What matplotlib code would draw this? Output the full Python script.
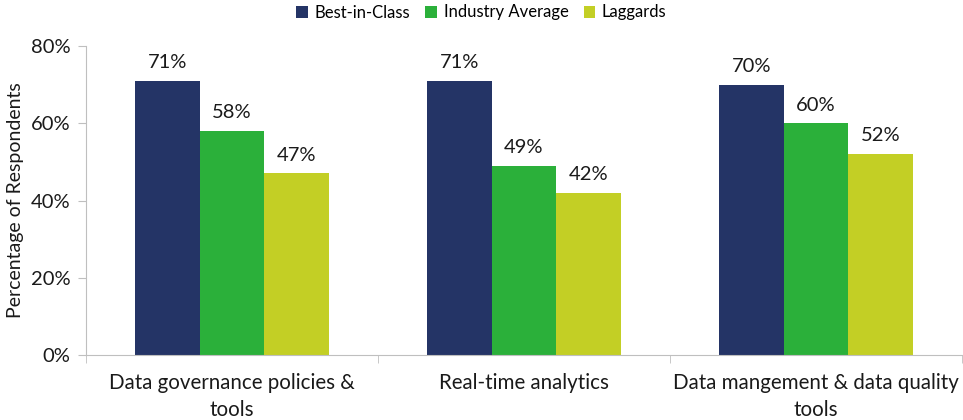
import numpy as np
import matplotlib.pyplot as plt
from matplotlib.ticker import FuncFormatter

# Datos del gráfico
categorias = ["Data governance policies &\ntools", "Real-time analytics",
              "Data mangement & data quality\ntools"]
series = ["Best-in-Class", "Industry Average", "Laggards"]
best = [71, 71, 70]
industria = [58, 49, 60]
rezagados = [47, 42, 52]
colores = ["#243466", "#2bb03a", "#c3cf25"]

plt.rcParams['font.family'] = ['Lato', 'DejaVu Sans']

fig = plt.figure(figsize=(9.63, 4.2), dpi=100)
ax = fig.add_axes([86 / 963, 65 / 420, 876 / 963, 309 / 420])

x = np.arange(len(categorias))
ancho = 0.222
valores = [best, industria, rezagados]
for i, (nombre, vals) in enumerate(zip(series, valores)):
    pos = x + (i - 1) * ancho
    barras = ax.bar(pos, np.array(vals) / 100, ancho, color=colores[i], label=nombre)
    for b, v in zip(barras, vals):
        ax.annotate(f"{v}%", (b.get_x() + b.get_width() / 2, b.get_height()),
                    xytext=(0, 7), textcoords='offset points',
                    ha='center', va='bottom', fontsize=14.5, color='#1a1a1a')

ax.set_xlim(-0.5, len(categorias) - 0.5)
ax.set_ylim(0, 0.8)
ax.set_yticks([0, 0.2, 0.4, 0.6, 0.8])
ax.yaxis.set_major_formatter(FuncFormatter(lambda v, p: f"{v * 100:.0f}%"))
ax.set_xticks(x)
ax.set_xticklabels(categorias, fontsize=14.8, color='#1a1a1a', linespacing=1.45)
ax.set_xticks(np.arange(len(categorias) + 1) - 0.5, minor=True)
ax.tick_params(axis='x', which='major', length=0, pad=13)
ax.tick_params(axis='x', which='minor', length=6, color='#bfbfbf')
ax.tick_params(axis='y', labelsize=14.5, labelcolor='#1a1a1a', length=6, color='#bfbfbf', pad=5)
ax.set_ylabel("Percentage of Respondents", fontsize=14, color='#1a1a1a', labelpad=5)

for lado in ['top', 'right']:
    ax.spines[lado].set_visible(False)
for lado in ['left', 'bottom']:
    ax.spines[lado].set_color('#bfbfbf')

fig.legend(loc='upper center', bbox_to_anchor=(0.5, 1.025), ncol=3, frameon=False,
           fontsize=12, handlelength=0.7, handleheight=0.7, handletextpad=0.4,
           columnspacing=0.9)

plt.savefig("out.png", dpi=100)
